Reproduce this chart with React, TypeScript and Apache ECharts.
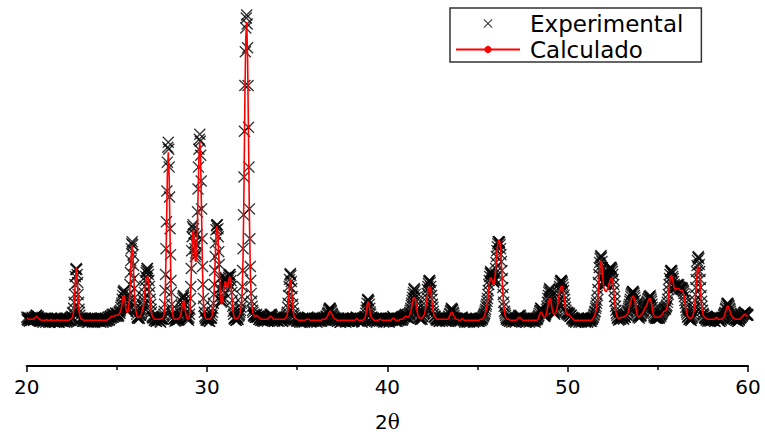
import React, { useEffect, useRef } from "react";
import * as echarts from "echarts";

// 2θ grid of the pattern: first angle and step (degrees)
const START_2THETA = 20;
const STEP_2THETA = 0.05;
// second experimental scan, offset by half a step
const START_2THETA_B = 20.025;

// x-axis ticks
const X_MIN = 20;
const X_MAX = 60;
const X_INTERVAL = 10;

const SERIES_NAMES = ["Experimental", "Calculado"];
const AXIS_NAME_NUM = "2";
const AXIS_NAME_SYM = "θ";

// Calculated profile (one row = 1 degree, 0.05° step, from 20.00)
const calculado: number[] = [
  48,48,47,47,47,47,47,47,48,48,49,50,49,48,47,47,46,46,46,46,
  46,46,47,46,46,46,46,47,46,46,46,46,46,46,47,46,46,46,46,46,
  46,46,46,46,46,46,46,46,47,47,48,50,55,67,86,99,88,68,55,50,
  48,47,47,46,46,46,46,46,46,46,46,46,46,46,46,46,46,46,46,46,
  46,46,46,46,46,46,46,46,46,46,47,47,48,49,50,50,50,50,51,51,
  51,51,52,53,55,58,64,70,71,66,58,54,54,58,68,88,112,121,108,84,
  66,56,51,49,49,49,50,52,55,58,64,74,84,89,90,86,76,65,56,51,
  49,48,47,47,47,47,47,47,47,47,48,48,50,58,85,135,192,215,190,130,
  82,60,51,48,47,47,47,47,48,48,49,52,57,63,66,62,55,50,48,47,
  48,55,75,110,136,135,120,106,105,125,170,210,226,205,150,95,65,53,49,47,
  47,47,47,47,48,49,52,60,78,105,132,141,135,112,85,68,62,65,72,80,
  85,84,80,80,86,90,88,78,64,54,49,48,47,48,48,49,51,54,60,75,
  110,180,270,330,346,310,230,150,95,70,58,53,51,50,50,51,50,49,48,48,
  47,47,47,47,47,47,47,47,48,49,50,50,49,48,47,47,47,47,47,47,
  47,47,47,47,47,47,47,48,49,52,60,75,87,87,74,60,52,49,48,47,
  47,46,46,46,46,46,46,46,46,46,47,47,47,47,46,46,46,46,46,46,
  46,46,46,46,46,46,46,46,47,47,47,47,48,49,51,53,55,55,53,51,
  49,48,47,47,46,46,46,46,46,46,46,46,46,46,46,46,46,46,46,46,
  46,46,46,46,46,47,48,47,46,46,46,46,46,46,47,48,51,57,63,65,
  60,53,49,48,47,46,46,46,46,46,46,47,47,47,46,46,46,46,46,46,
  46,46,46,46,46,47,48,48,47,46,46,46,46,46,47,47,47,47,48,49,
  50,50,49,49,50,52,55,59,64,68,69,67,61,55,51,49,48,48,48,49,
  50,52,55,61,68,75,79,80,76,68,60,54,50,49,48,47,47,47,47,47,
  47,47,47,47,47,47,47,47,48,50,52,54,54,52,50,48,47,47,47,46,
  46,46,47,48,47,46,46,46,46,46,46,46,46,46,46,46,46,46,46,46,
  46,46,46,47,47,47,48,49,51,54,58,64,72,82,88,89,87,83,82,86,
  96,108,119,125,127,124,112,94,76,62,54,50,48,47,47,47,46,46,46,46,
  46,46,46,46,47,48,49,49,48,47,46,46,46,46,46,46,46,46,46,46,
  46,46,46,46,46,46,46,47,49,52,54,54,52,50,49,49,51,55,60,65,
  68,67,62,56,53,52,52,54,57,62,68,74,78,80,80,76,69,61,55,52,
  52,52,51,50,49,48,47,46,46,46,46,46,46,46,46,46,46,46,46,46,
  46,46,46,46,46,46,46,46,48,49,51,54,58,65,76,90,102,106,100,88,
  79,77,75,75,77,80,83,86,88,88,85,77,66,57,52,49,48,48,48,49,
  49,49,49,50,50,51,52,54,57,61,65,68,70,70,68,63,57,52,50,49,
  50,51,52,53,55,57,59,60,62,65,67,68,67,63,57,52,50,49,49,49,
  49,49,50,50,51,52,54,55,55,56,58,63,72,83,90,91,89,84,79,77,
  77,78,78,78,77,76,76,76,75,71,65,58,53,50,49,48,48,48,49,51,
  55,62,73,87,98,100,94,81,67,57,52,50,49,48,48,47,47,47,47,47,
  47,47,47,47,48,49,48,47,47,47,47,47,48,49,51,54,57,60,60,58,
  55,52,50,49,48,48,47,47,47,47,47,47,48,49,50,51,52,52,51,50,
  50,
];

// Experimental points, scan A (0.05° step, from 20.00)
const experimentalA: number[] = [
  49,46,48,45,48,46,49,47,46,49,50,51,48,49,46,48,45,47,44,47,
  47,44,46,48,45,47,44,46,48,45,46,44,47,45,48,46,44,47,45,46,
  45,47,44,46,48,45,47,46,46,49,50,53,58,72,90,98,92,72,57,51,
  47,48,45,47,45,48,46,44,47,46,45,48,46,44,47,45,48,46,45,47,
  45,47,44,48,46,45,47,45,48,46,46,49,47,50,49,52,49,51,50,53,
  50,52,51,55,56,61,67,74,76,69,60,56,55,61,72,94,118,125,112,88,
  69,58,52,48,50,48,51,53,57,62,69,80,90,96,98,92,80,67,57,50,
  48,49,46,48,45,47,46,48,45,47,49,47,52,62,92,145,205,225,200,138,
  86,62,52,47,48,46,48,46,49,47,50,55,60,68,71,66,57,51,47,48,
  49,57,80,116,140,138,124,110,112,132,178,218,233,212,158,100,68,54,48,46,
  48,46,48,45,49,48,54,63,82,110,137,142,138,115,88,70,64,67,76,84,
  88,87,83,84,89,92,90,80,66,55,48,49,46,49,47,50,52,56,63,80,
  118,190,282,340,353,320,240,158,100,73,60,54,50,51,49,52,49,50,47,49,
  46,48,45,47,49,46,48,45,49,50,52,51,50,47,48,45,47,49,46,48,
  45,48,46,48,45,47,49,47,50,54,63,80,92,91,78,62,53,48,49,46,
  48,45,47,44,47,45,48,46,44,47,48,46,49,46,47,44,46,48,45,47,
  45,47,44,47,45,48,46,45,48,46,48,46,50,50,53,56,58,57,55,52,
  50,47,48,46,47,45,48,46,44,47,46,48,45,47,44,46,48,45,47,46,
  47,45,48,45,47,48,49,46,47,45,48,46,44,47,48,49,53,59,66,66,
  62,54,48,49,46,47,45,48,44,47,46,48,46,48,45,47,44,47,46,48,
  45,47,44,47,46,48,50,47,48,45,47,45,48,46,48,46,49,47,50,50,
  52,49,51,48,52,54,58,63,69,74,78,72,65,57,52,48,49,47,49,50,
  52,54,58,65,73,80,85,86,80,71,62,55,49,50,47,48,46,48,45,47,
  48,45,47,49,46,48,45,48,50,52,55,58,57,54,51,47,48,46,47,45,
  47,45,48,49,46,47,44,46,48,45,47,44,46,48,45,47,45,46,48,46,
  45,47,45,48,46,48,49,51,53,57,62,68,76,86,93,94,91,86,84,88,
  98,110,120,125,125,122,112,96,79,64,55,51,47,48,46,48,45,47,44,47,
  45,47,44,47,48,49,51,50,49,46,47,45,48,46,44,47,45,48,46,45,
  47,45,48,46,44,47,48,49,51,55,58,57,54,52,50,51,54,60,68,74,
  78,74,66,59,55,53,54,56,60,66,73,80,85,86,84,79,71,63,56,53,
  54,51,53,50,51,47,48,45,47,44,47,46,48,45,47,44,46,48,45,47,
  45,47,44,48,46,45,47,48,49,51,54,58,63,71,84,99,108,111,105,93,
  86,83,82,84,88,92,96,99,99,97,92,82,70,60,53,48,49,47,48,50,
  48,50,47,51,49,52,54,56,60,65,70,73,75,74,71,66,59,53,49,50,
  51,50,53,55,56,59,61,62,64,67,69,70,69,65,59,53,49,50,48,49,
  48,50,49,52,52,54,56,57,58,59,61,67,77,88,95,96,93,88,82,80,
  79,81,80,82,79,79,77,78,76,73,66,59,54,49,50,47,48,46,49,52,
  58,66,79,95,106,110,102,87,71,60,53,51,48,49,47,48,46,48,45,47,
  48,46,48,45,49,50,49,46,48,45,47,49,48,51,53,57,60,63,62,60,
  57,53,51,48,49,47,48,46,48,45,47,48,49,51,51,53,54,53,52,51,
  51,
];

// Experimental points, scan B (0.05° step, from 20.025)
const experimentalB: number[] = [
  47,49,46,48,46,47,48,46,49,47,51,49,50,47,48,45,47,46,45,48,
  46,48,45,47,44,47,46,48,45,47,45,48,46,45,47,44,46,48,46,45,
  47,45,48,46,44,47,45,48,46,48,49,54,64,82,97,97,84,64,54,48,
  46,48,45,47,48,45,47,46,44,48,46,47,45,48,46,44,47,46,48,45,
  47,45,48,46,44,47,46,48,45,47,49,46,50,48,51,49,52,50,53,51,
  53,50,54,53,59,63,71,75,73,65,58,55,58,66,82,106,123,122,101,78,
  63,55,49,50,48,51,52,55,60,66,74,86,94,98,95,86,74,62,54,49,
  49,46,48,45,47,49,46,48,44,47,48,50,55,76,118,176,220,218,170,112,
  74,57,50,48,45,48,46,49,47,49,52,57,64,70,69,62,54,48,48,46,
  52,68,98,130,142,133,118,114,122,155,200,228,226,186,128,82,60,50,49,47,
  46,48,45,48,49,51,58,72,96,124,141,142,130,102,78,66,65,70,80,86,
  89,85,84,86,91,92,86,74,60,52,47,48,46,49,47,51,54,59,70,96,
  152,236,316,350,344,282,200,128,86,65,56,51,52,49,51,49,50,47,49,46,
  47,46,48,45,47,48,46,47,48,50,51,52,50,48,46,48,46,47,45,48,
  48,46,47,45,48,46,48,49,52,59,71,87,93,85,70,58,51,47,48,45,
  46,48,45,47,46,44,47,45,48,46,47,49,47,48,45,47,45,47,46,48,
  47,45,48,46,47,45,48,46,47,49,47,48,49,52,54,57,58,56,53,51,
  48,49,46,47,45,48,46,44,47,45,48,46,47,45,48,46,45,47,46,48,
  46,48,45,47,47,49,48,45,48,46,47,45,48,46,49,50,56,63,67,65,
  58,52,49,46,48,46,47,45,48,46,47,45,48,47,46,48,45,47,45,47,
  46,48,45,48,47,46,49,48,46,47,45,48,46,47,47,49,46,48,49,51,
  51,50,52,48,53,56,61,66,72,77,76,69,61,54,50,49,47,48,47,50,
  53,56,61,69,77,83,86,84,76,67,59,52,50,48,46,48,47,45,48,46,
  46,48,46,47,45,48,47,46,49,53,56,57,56,53,49,48,46,48,45,47,
  46,47,49,48,46,45,47,46,44,47,46,48,45,47,46,44,47,45,47,46,
  47,45,47,46,48,47,50,52,55,60,65,72,82,90,95,93,89,85,86,93,
  104,116,123,125,124,118,105,88,72,60,53,49,48,46,47,45,48,46,47,45,
  47,45,48,46,48,50,50,51,48,47,45,47,46,48,45,47,46,44,47,46,
  46,48,45,47,46,48,47,50,53,56,58,56,53,51,50,52,57,64,71,76,
  77,70,62,57,54,52,55,58,63,70,77,83,86,85,82,76,67,59,54,52,
  53,52,50,51,48,49,46,48,45,47,46,48,44,47,46,48,45,47,46,44,
  46,48,45,47,46,48,45,47,49,52,55,60,66,77,92,104,110,109,99,89,
  85,82,83,86,90,94,97,99,98,95,87,76,65,56,51,49,46,48,47,50,
  50,48,51,49,52,51,55,58,62,67,72,74,75,73,69,62,56,51,50,48,
  52,51,54,55,58,60,61,63,65,68,70,71,67,62,56,51,50,48,50,48,
  50,48,51,50,53,55,56,58,57,60,64,72,82,92,96,95,90,85,81,79,
  80,82,81,80,78,78,79,77,75,70,63,56,52,50,47,49,46,48,50,55,
  61,72,87,101,109,108,95,79,65,56,52,49,48,46,48,45,47,46,48,46,
  47,46,48,45,49,50,48,47,45,48,46,48,49,52,54,58,62,63,61,58,
  55,52,50,49,47,48,46,48,45,47,46,48,49,50,52,52,54,53,51,52,
];

const X_SYMBOL =
  "path://M0,0.08L0.08,0L0.5,0.42L0.92,0L1,0.08L0.58,0.5L1,0.92L0.92,1L0.5,0.58L0.08,1L0,0.92L0.42,0.5Z";

const FONT = "DejaVu Sans";

export default function App() {
  const ref = useRef<HTMLDivElement>(null);

  useEffect(() => {
    if (!ref.current) return;
    const chart = echarts.init(ref.current, null, { renderer: "svg" });

    const toPairs = (arr: number[], start: number) =>
      arr.map((v, i) => [+(start + i * STEP_2THETA).toFixed(3), v]);

    const expPoints = toPairs(experimentalA, START_2THETA)
      .concat(toPairs(experimentalB, START_2THETA_B))
      .sort((a, b) => a[0] - b[0]);

    chart.setOption({
      animation: false,
      backgroundColor: "#ffffff",
      textStyle: { fontFamily: FONT },
      grid: { left: 26.7, right: 17, top: 10, bottom: 69, containLabel: false },
      legend: {
        orient: "vertical",
        left: 450,
        top: 8,
        padding: [4, 18, 1, 5],
        itemWidth: 64,
        itemHeight: 9,
        itemGap: 3,
        borderColor: "#333333",
        borderWidth: 1.5,
        borderRadius: 0,
        textStyle: {
          fontFamily: FONT,
          fontSize: 23,
          color: "#000",
          lineHeight: 23,
          padding: [0, 0, 0, 5],
        },
        data: [
          { name: SERIES_NAMES[0], icon: X_SYMBOL },
          { name: SERIES_NAMES[1] },
        ],
      },
      xAxis: {
        type: "value",
        min: X_MIN,
        max: X_MAX,
        interval: X_INTERVAL,
        name: `{n|${AXIS_NAME_NUM}}{s|${AXIS_NAME_SYM}}`,
        nameLocation: "middle",
        nameGap: 46,
        nameTextStyle: {
          rich: {
            n: { fontFamily: FONT, fontSize: 20, color: "#000" },
            s: { fontFamily: "DejaVu Serif", fontSize: 20, color: "#000" },
          },
        },
        axisLine: { show: true, onZero: false, lineStyle: { color: "#000", width: 2 } },
        axisTick: { show: true, inside: false, length: 6, lineStyle: { color: "#000", width: 1.5 } },
        minorTick: { show: true, splitNumber: 2, length: 4, lineStyle: { color: "#000", width: 1.5 } },
        axisLabel: { fontFamily: FONT, fontSize: 20, color: "#000", margin: 11 },
        splitLine: { show: false },
        minorSplitLine: { show: false },
      },
      yAxis: {
        type: "value",
        min: 0,
        max: 358,
        show: false,
        splitLine: { show: false },
      },
      series: [
        {
          name: SERIES_NAMES[0],
          type: "scatter",
          symbol: X_SYMBOL,
          symbolSize: 12,
          symbolKeepAspect: true,
          itemStyle: { color: "#000" },
          data: expPoints,
          z: 2,
        },
        {
          name: SERIES_NAMES[1],
          type: "line",
          symbol: "circle",
          showSymbol: false,
          symbolSize: 4,
          itemStyle: { color: "#ff0000" },
          lineStyle: { color: "#ff0000", width: 1.6 },
          data: toPairs(calculado, START_2THETA),
          z: 3,
        },
      ],
    });

    return () => chart.dispose();
  }, []);

  return (
    <div
      ref={ref}
      style={{ position: "fixed", left: 0, top: 0, width: 765, height: 437, background: "#fff" }}
    />
  );
}
